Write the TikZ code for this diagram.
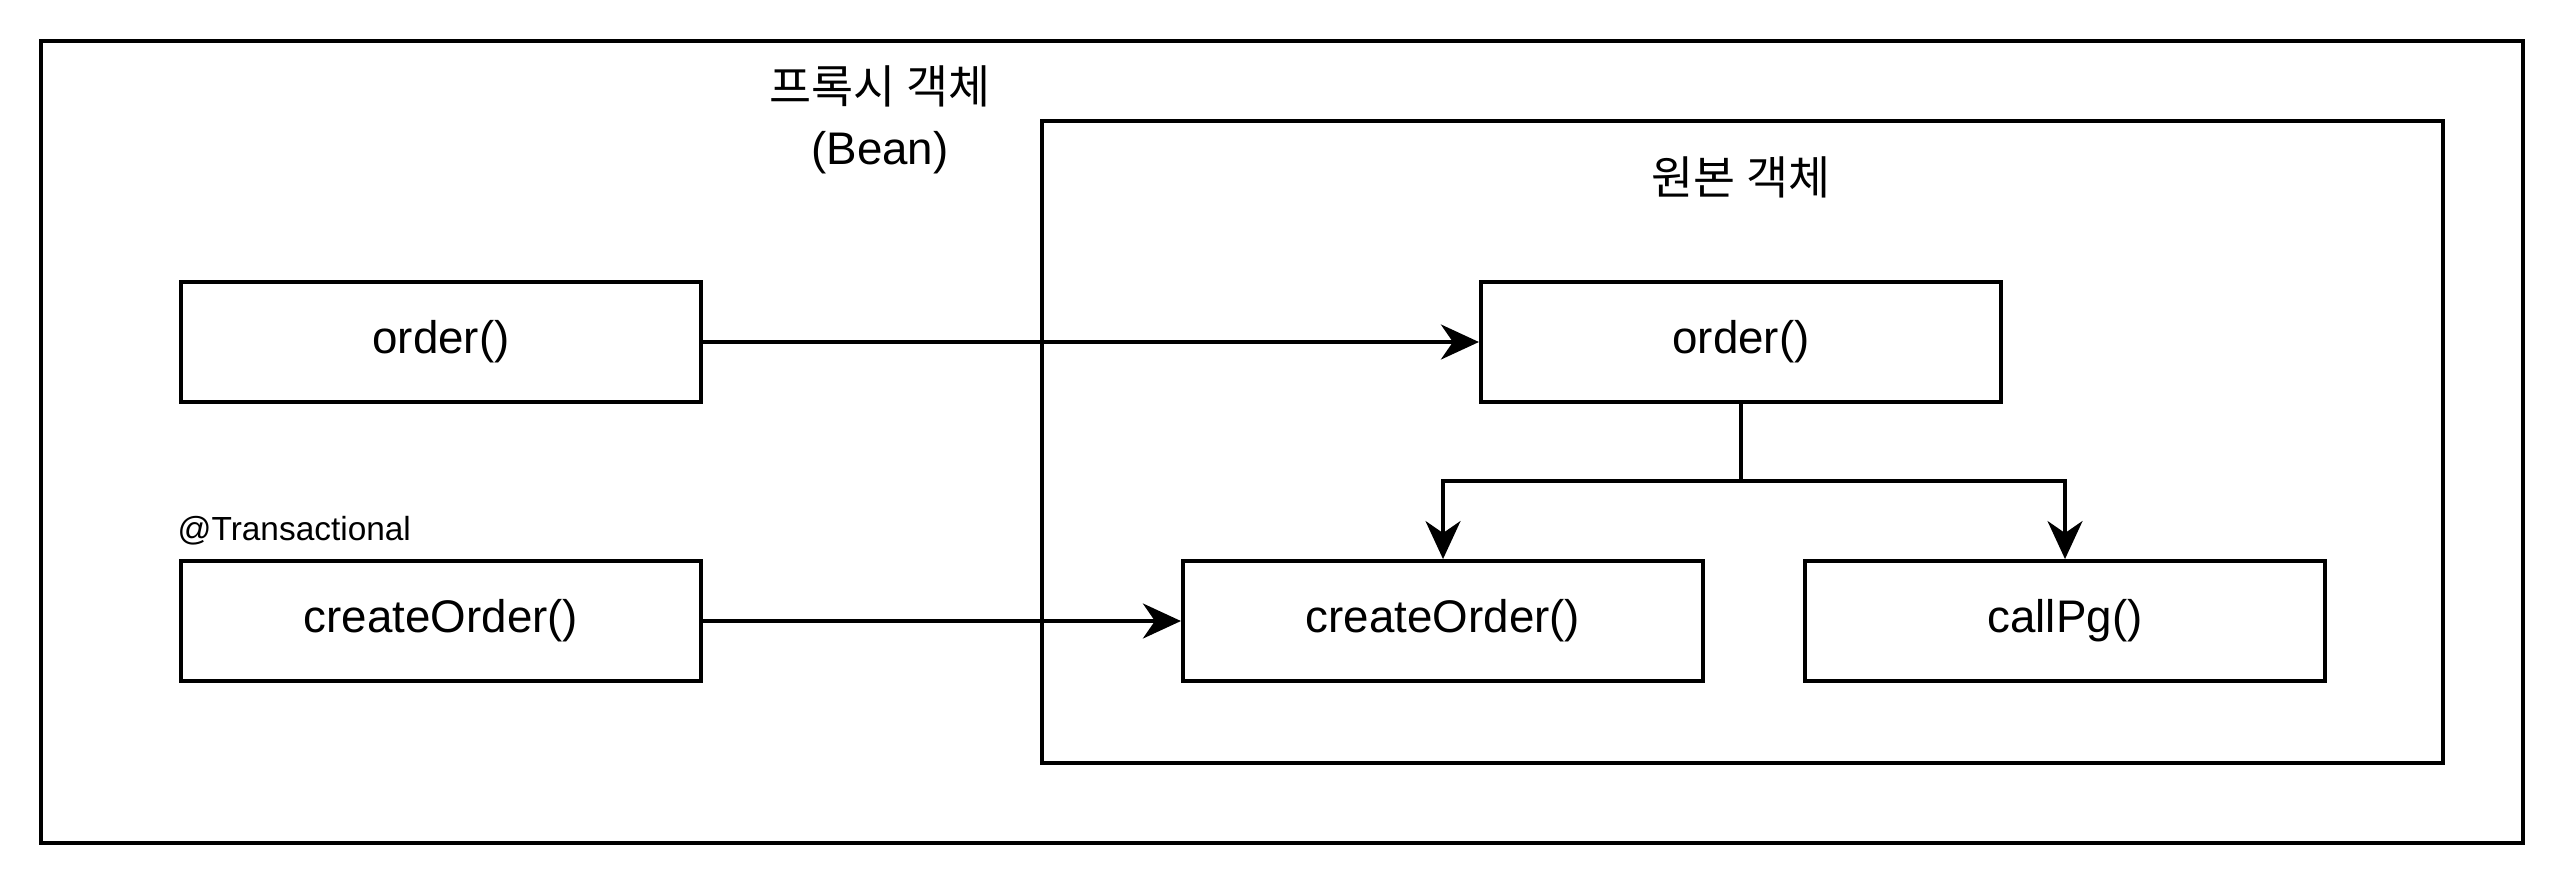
\documentclass[tikz,border=0pt]{standalone}
\usepackage{fontspec}
\setmainfont{Liberation Sans}
\newfontfamily\krfont{Noto Sans CJK KR}
\usetikzlibrary{arrows.meta,positioning}

\begin{document}
\begin{tikzpicture}[
    x=0.01cm, y=-0.01cm,
    >={Stealth[length=3.8mm,width=3.5mm,inset=1.2mm]},
    method/.style={
      draw=black,
      line width=1.1pt,
      fill=white,
      align=center,
      minimum width=5.2cm,
      minimum height=1.2cm,
      inner sep=0pt,
      font=\fontsize{13}{15}\selectfont
    },
    frame/.style={draw=black, line width=1.1pt},
    call/.style={->, line width=1pt},
    branch/.style={->, line width=0.9pt}
  ]
    \useasboundingbox (0,0) rectangle (2564,884);

    % frames
    \draw[frame] (41,41) rectangle (2523,843);
    \draw[frame] (1042,121) rectangle (2443,763);
    \node[font=\krfont\fontsize{13}{15}\selectfont] (proxytitle) at (880,86) {프록시 객체};
    \node[font=\fontsize{13}{15}\selectfont] (beanlabel) at (880,153) {(Bean)};
    \node[font=\krfont\fontsize{13}{15}\selectfont] (origtitle) at (1741,177) {원본 객체};

    % proxy methods
    \node[method] (porder) at (441,342) {order()};
    \node[method] (pcreate) at (441,621) {createOrder()};
    \node[font=\fontsize{9.5}{11}\selectfont, anchor=west, inner sep=0pt] (txlabel) at (177,531) {@Transactional};

    % target methods
    \node[method] (torder) at (1741,342) {order()};
    \node[method] (tcreate) at (1443,621) {createOrder()};
    \node[method] (tcallpg) at (2065,621) {callPg()};
    \coordinate (split) at (1741,481);

    \draw[call] (porder) -- (torder);
    \draw[call] (pcreate) -- (tcreate);
    \draw[line width=0.9pt] (torder) -- (split);
    \draw[branch] (split) -| (tcreate);
    \draw[branch] (split) -| (tcallpg);
  \end{tikzpicture}
\end{document}
